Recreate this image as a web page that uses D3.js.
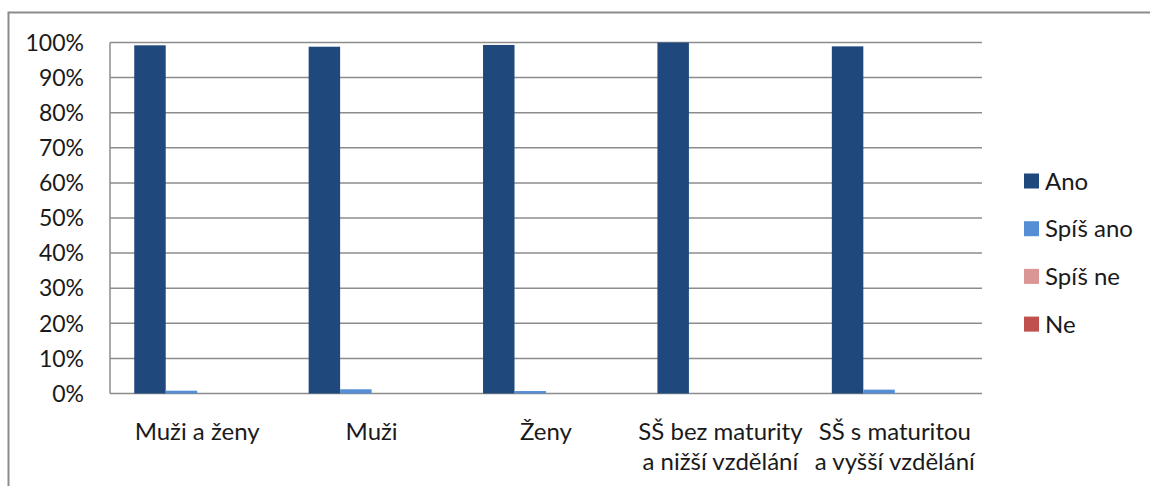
<!DOCTYPE html>
<html>
<head>
<meta charset="utf-8">
<script src="https://cdn.jsdelivr.net/npm/d3@7"></script>
<style>
  body { margin: 0; background: #fff; }
  svg { display: block; font-family: Lato, "Open Sans", sans-serif; }
</style>
</head>
<body>
<svg id="chart" width="1150" height="486"></svg>
<script>
"use strict";

var categories = [
  ["Muži a ženy"],
  ["Muži"],
  ["Ženy"],
  ["SŠ bez maturity", "a nižší vzdělání"],
  ["SŠ s maturitou", "a vyšší vzdělání"],
];
var seriesNames = ["Ano", "Spíš ano", "Spíš ne", "Ne"];
var ano = [99.2, 98.8, 99.3, 100, 98.9];
var spisAno = [0.8, 1.2, 0.7, 0, 1.1];
var spisNe = [0, 0, 0, 0, 0];
var ne = [0, 0, 0, 0, 0];
var yTicks = [0, 10, 20, 30, 40, 50, 60, 70, 80, 90, 100];
var colors = ["#1F497D", "#558ED5", "#D99694", "#C0504D"];

var values = [ano, spisAno, spisNe, ne];

var svg = d3.select("#chart");
var plotL = 110, plotR = 982, plotT = 42.5, plotB = 393.5;

// outer chart frame (cut off on the right and bottom)
svg.append("rect")
  .attr("x", 8.5).attr("y", 12.5)
  .attr("width", 1200).attr("height", 600)
  .attr("fill", "none").attr("stroke", "#8c8c8c").attr("stroke-width", 2);

var x0 = d3.scaleBand()
  .domain(d3.range(categories.length))
  .range([plotL, plotR])
  .paddingInner(0)
  .paddingOuter(0);

var x1 = d3.scaleBand()
  .domain(d3.range(seriesNames.length))
  .range([0, x0.bandwidth()])
  .paddingOuter(0.77)
  .paddingInner(0);

var y = d3.scaleLinear().domain([0, 100]).range([plotB, plotT]);

// grid lines
svg.append("g")
  .selectAll("line")
  .data(yTicks)
  .join("line")
  .attr("x1", plotL).attr("x2", plotR)
  .attr("y1", (d) => y(d)).attr("y2", (d) => y(d))
  .attr("stroke", "#8c8c8c").attr("stroke-width", 1.5);

// left axis line
svg.append("line")
  .attr("x1", plotL).attr("x2", plotL)
  .attr("y1", plotT).attr("y2", plotB)
  .attr("stroke", "#8c8c8c").attr("stroke-width", 1.5);

// y tick labels
svg.append("g")
  .selectAll("text")
  .data(yTicks)
  .join("text")
  .attr("x", 84)
  .attr("y", (d) => y(d))
  .attr("dy", "0.36em")
  .attr("text-anchor", "end")
  .attr("font-size", 23)
  .attr("fill", "#1a1a1a")
  .text((d) => d + "%");

// bars
var groups = svg.append("g")
  .selectAll("g")
  .data(categories)
  .join("g")
  .attr("transform", (d, i) => "translate(" + x0(i) + ",0)");

groups.selectAll("rect")
  .data((d, i) => values.map((s, k) => ({ k: k, v: s[i] })))
  .join("rect")
  .attr("x", (d) => x1(d.k))
  .attr("width", x1.bandwidth())
  .attr("y", (d) => y(d.v))
  .attr("height", (d) => y(0) - y(d.v))
  .attr("fill", (d) => colors[d.k]);

// category labels
svg.append("g")
  .selectAll("text")
  .data(categories)
  .join("text")
  .attr("x", (d, i) => x0(i) + x0.bandwidth() / 2)
  .attr("y", 440)
  .attr("text-anchor", "middle")
  .attr("font-size", 24)
  .attr("fill", "#1a1a1a")
  .selectAll("tspan")
  .data((d) => d)
  .join("tspan")
  .attr("x", function () { return this.parentNode.getAttribute("x"); })
  .attr("dy", (d, j) => (j === 0 ? 0 : 30))
  .text((d) => d);

// legend
var legend = svg.append("g")
  .selectAll("g")
  .data(seriesNames)
  .join("g")
  .attr("transform", (d, i) => "translate(1024," + (181 + i * 47.7) + ")");

legend.append("rect")
  .attr("x", 0).attr("y", -7.5)
  .attr("width", 15).attr("height", 15)
  .attr("fill", (d, i) => colors[i]);

legend.append("text")
  .attr("x", 21)
  .attr("dy", "0.36em")
  .attr("font-size", 24)
  .attr("fill", "#1a1a1a")
  .text((d) => d);
</script>
</body>
</html>
